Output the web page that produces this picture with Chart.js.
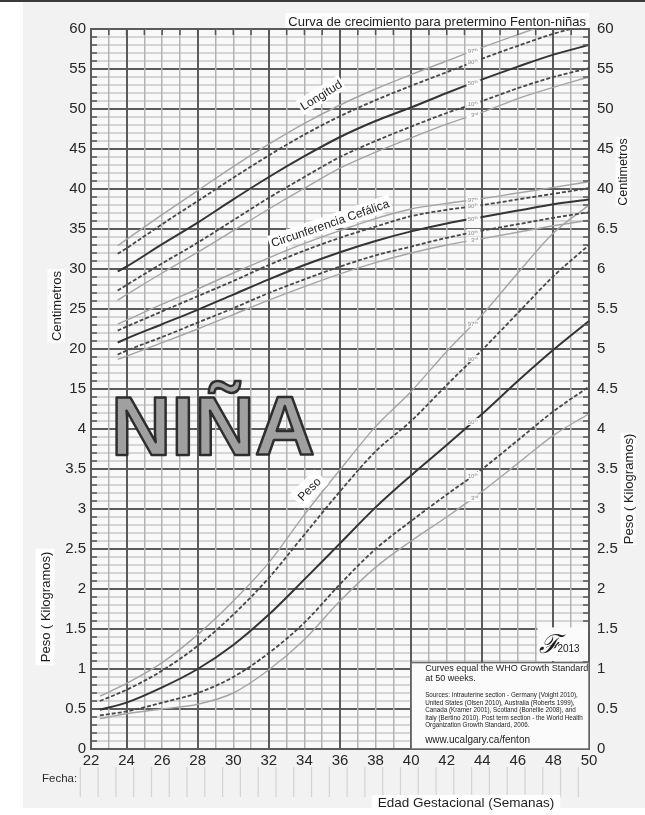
<!DOCTYPE html>
<html lang="es">
<head>
<meta charset="utf-8">
<title>Curva de crecimiento para pretermino Fenton-niñas</title>
<script src="https://cdn.jsdelivr.net/npm/chart.js@4.4.1/dist/chart.umd.min.js"></script>
<style>
  html, body { margin: 0; padding: 0; background: #fff; }
  canvas { display: block; }
</style>
</head>
<body>
<canvas id="fentonChart" width="645" height="815"></canvas>
<script>
// Semanas (edad gestacional) de cada punto de las curvas
const upperWeeks = [23.5, 24, 26, 28, 30, 32, 34, 36, 38, 40, 42, 44, 46, 48, 50];
const weightWeeks = [22.5, 24, 26, 28, 30, 32, 34, 36, 38, 40, 42, 44, 46, 48, 50];

// Longitud (cm)
const length97 = [32.9, 33.7, 36.8, 39.8, 42.8, 45.6, 48.2, 50.5, 52.5, 54.3, 56.0, 57.7, 59.3, 60.8, 62.0];
const length90 = [31.9, 32.6, 35.6, 38.5, 41.4, 44.2, 46.8, 49.1, 51.1, 52.9, 54.6, 56.3, 57.9, 59.4, 60.6];
const length50 = [29.7, 30.3, 33.1, 35.8, 38.7, 41.5, 44.1, 46.5, 48.5, 50.2, 52.0, 53.7, 55.3, 56.8, 58.0];
const length10 = [27.3, 28.0, 30.7, 33.3, 36.1, 38.9, 41.5, 44.0, 46.0, 47.8, 49.5, 51.0, 52.6, 54.0, 55.1];
const length3 = [26.1, 26.8, 29.5, 32.1, 34.8, 37.5, 40.1, 42.6, 44.6, 46.4, 48.1, 49.6, 51.3, 52.7, 54.0];

// Circunferencia cefálica (cm)
const head97 = [23.1, 23.6, 25.6, 27.5, 29.5, 31.4, 33.2, 34.8, 36.3, 37.5, 38.2, 38.8, 39.5, 40.2, 40.9];
const head90 = [22.3, 22.8, 24.7, 26.6, 28.5, 30.5, 32.3, 33.9, 35.3, 36.6, 37.4, 38.0, 38.7, 39.4, 40.1];
const head50 = [20.8, 21.3, 23.1, 24.9, 26.8, 28.7, 30.5, 32.1, 33.5, 34.7, 35.7, 36.5, 37.3, 38.1, 38.7];
const head10 = [19.3, 19.8, 21.5, 23.3, 25.1, 27.0, 28.7, 30.3, 31.7, 32.8, 33.9, 34.8, 35.6, 36.4, 37.1];
const head3 = [18.7, 19.1, 20.8, 22.5, 24.3, 26.1, 27.8, 29.4, 30.8, 32.0, 33.0, 33.8, 34.6, 35.4, 36.1];

// Peso (kg)
const weight97 = [0.66, 0.82, 1.08, 1.43, 1.85, 2.33, 2.93, 3.49, 4.03, 4.47, 4.97, 5.43, 5.95, 6.45, 6.80];
const weight90 = [0.60, 0.74, 0.98, 1.29, 1.68, 2.14, 2.68, 3.22, 3.72, 4.10, 4.55, 4.99, 5.45, 5.91, 6.30];
const weight50 = [0.49, 0.58, 0.77, 1.00, 1.30, 1.68, 2.12, 2.57, 3.02, 3.42, 3.80, 4.19, 4.60, 4.99, 5.35];
const weight10 = [0.42, 0.47, 0.58, 0.70, 0.90, 1.20, 1.58, 2.06, 2.50, 2.85, 3.18, 3.50, 3.86, 4.22, 4.53];
const weight3 = [0.38, 0.44, 0.50, 0.56, 0.70, 0.99, 1.37, 1.85, 2.27, 2.60, 2.90, 3.22, 3.57, 3.92, 4.19];

// Etiquetas de los ejes
const weekTicks = [22, 24, 26, 28, 30, 32, 34, 36, 38, 40, 42, 44, 46, 48, 50];
const cmTicksLeft = [15, 20, 25, 30, 35, 40, 45, 50, 55, 60];
const kgTicksLeft = [0, 0.5, 1, 1.5, 2, 2.5, 3, 3.5, 4];
const cmTicksRight = [40, 45, 50, 55, 60];
const kgTicksRight = [0, 0.5, 1, 1.5, 2, 2.5, 3, 3.5, 4, 4.5, 5, 5.5, 6, 6.5];

const FONT = '"Liberation Sans", Arial, sans-serif';
Chart.defaults.font.family = FONT;

const MAJOR = '#5b5b5b';
const lineStyles = {
    97: { borderColor: '#a4a4a4', borderWidth: 1.4, borderDash: [] },
    90: { borderColor: '#474747', borderWidth: 1.8, borderDash: [4, 2] },
    50: { borderColor: '#343434', borderWidth: 2, borderDash: [] },
    10: { borderColor: '#474747', borderWidth: 1.8, borderDash: [4, 2] },
    3: { borderColor: '#a4a4a4', borderWidth: 1.4, borderDash: [] }
};

function curve(weeks, values, pct, axis) {
    return Object.assign({
        data: weeks.map((w, i) => ({ x: w, y: values[i] })),
        yAxisID: axis,
        pointRadius: 0,
        fill: false,
        cubicInterpolationMode: 'monotone'
    }, lineStyles[pct]);
}

const groups = [
    { weeks: upperWeeks, axis: 'y', sets: { 97: length97, 90: length90, 50: length50, 10: length10, 3: length3 } },
    { weeks: upperWeeks, axis: 'y', sets: { 97: head97, 90: head90, 50: head50, 10: head10, 3: head3 } },
    { weeks: weightWeeks, axis: 'yKg', sets: { 97: weight97, 90: weight90, 50: weight50, 10: weight10, 3: weight3 } }
];

const datasets = [];
groups.forEach(g => {
    [97, 90, 50, 10, 3].forEach(p => datasets.push(curve(g.weeks, g.sets[p], p, g.axis)));
});

function valueAt(weeks, values, w) {
    for (let i = 1; i < weeks.length; i++) {
        if (w <= weeks[i]) {
            const t = (w - weeks[i - 1]) / (weeks[i] - weeks[i - 1]);
            return values[i - 1] + t * (values[i] - values[i - 1]);
        }
    }
    return values[values.length - 1];
}

// texto girado con fondo blanco
function boxedText(ctx, text, x, y, angle, font, pad) {
    ctx.save();
    ctx.translate(x, y);
    ctx.rotate(angle * Math.PI / 180);
    ctx.font = font;
    const w = ctx.measureText(text).width;
    const h = parseFloat(font.match(/(\d+(\.\d+)?)px/)[1]);
    ctx.fillStyle = '#ffffff';
    ctx.fillRect(-w / 2 - pad, -h / 2 - pad, w + pad * 2, h + pad * 2);
    ctx.fillStyle = '#1e1e1e';
    ctx.textAlign = 'center';
    ctx.textBaseline = 'middle';
    ctx.fillText(text, 0, 1);
    ctx.restore();
}

const backgroundPlugin = {
    id: 'paper',
    beforeDraw(chart) {
        const { ctx, chartArea: a } = chart;
        ctx.save();
        ctx.fillStyle = '#ffffff';
        ctx.fillRect(0, 0, chart.width, chart.height);
        ctx.fillStyle = '#f1f2f1';
        ctx.fillRect(23, 2, chart.width - 23, 806);
        ctx.fillStyle = '#3a3a3a';
        ctx.fillRect(0, 0, chart.width, 2);
        ctx.fillStyle = '#f8f9f8';
        ctx.fillRect(a.left, a.top, a.right - a.left, a.bottom - a.top);
        ctx.restore();
    }
};

const decorPlugin = {
    id: 'decor',
    afterDatasetsDraw(chart) {
        const { ctx, chartArea: a } = chart;
        const x = chart.scales.x, y = chart.scales.y, yKg = chart.scales.yKg;

        ctx.save();
        // marcas cortas en los bordes
        ctx.strokeStyle = '#555';
        ctx.lineWidth = 1.5;
        for (let v = -29; v < 60; v++) {
            if (v % 5 === 0) continue;
            const py = y.getPixelForValue(v);
            ctx.beginPath();
            ctx.moveTo(a.left, py); ctx.lineTo(a.left + 6, py);
            ctx.moveTo(a.right - 6, py); ctx.lineTo(a.right, py);
            ctx.stroke();
        }
        for (let w = 23; w < 50; w++) {
            const px = x.getPixelForValue(w);
            ctx.beginPath();
            ctx.moveTo(px, a.top); ctx.lineTo(px, a.top + 6);
            ctx.stroke();
        }

        // NIÑA
        const nx = x.getPixelForValue(28.86), ny = y.getPixelForValue(10.5);
        ctx.font = 'bold 84px ' + FONT;
        const nw = ctx.measureText('NIÑA').width;
        ctx.translate(nx, ny + 30);
        ctx.scale(204 / nw, 1);
        ctx.textAlign = 'center';
        ctx.textBaseline = 'alphabetic';
        ctx.fillStyle = '#a0a0a0';
        ctx.strokeStyle = '#2e2e2e';
        ctx.lineWidth = 2.5;
        ctx.lineJoin = 'round';
        ctx.fillText('NIÑA', 0, 0);
        ctx.strokeText('NIÑA', 0, 0);
        ctx.restore();

        // nombres de las curvas
        boxedText(ctx, 'Longitud', x.getPixelForValue(34.93), y.getPixelForValue(51.75), -31.6, '12px ' + FONT, 2);
        boxedText(ctx, 'Circunferencia Cefálica', x.getPixelForValue(35.44), y.getPixelForValue(35.75), -19, '12px ' + FONT, 2);
        boxedText(ctx, 'Peso', x.getPixelForValue(34.26), yKg.getPixelForValue(3.25), -45, '12px ' + FONT, 4);

        // percentiles sobre cada curva
        const suffix = { 97: 'th', 90: 'th', 50: 'th', 10: 'th', 3: 'rd' };
        const tagWeek = 43.5;
        groups.forEach(g => {
            const scale = chart.scales[g.axis];
            [97, 90, 50, 10, 3].forEach(p => {
                const px = x.getPixelForValue(tagWeek);
                const py = scale.getPixelForValue(valueAt(g.weeks, g.sets[p], tagWeek));
                ctx.save();
                ctx.fillStyle = '#f8f9f8';
                ctx.fillRect(px - 7, py - 3.5, 14, 7);
                ctx.fillStyle = '#8c8c8c';
                ctx.textBaseline = 'middle';
                ctx.textAlign = 'right';
                ctx.font = '6px ' + FONT;
                ctx.fillText(String(p), px + 1, py + 0.5);
                ctx.textAlign = 'left';
                ctx.font = '4px ' + FONT;
                ctx.fillText(suffix[p], px + 1, py - 1);
                ctx.restore();
            });
        });

        // recuadro de fuentes
        const bx = x.getPixelForValue(40), by = yKg.getPixelForValue(1.08);
        const bw = a.right - bx, bh = a.bottom - by;
        ctx.save();
        ctx.fillStyle = '#fbfbfb';
        ctx.fillRect(bx, by, bw, bh);
        ctx.strokeStyle = '#6a6a6a';
        ctx.lineWidth = 1.5;
        ctx.strokeRect(bx, by, bw, bh);
        ctx.fillStyle = '#222';
        ctx.textAlign = 'left';
        ctx.textBaseline = 'middle';
        ctx.font = '9px ' + FONT;
        ctx.fillText('Curves equal the WHO Growth Standard', bx + 14, by + 6);
        ctx.fillText('at 50 weeks.', bx + 14, by + 16);
        ctx.font = '6.3px ' + FONT;
        ['Sources: Intrauterine section - Germany (Voight 2010),',
         'United States (Olsen 2010), Australia (Roberts 1999),',
         'Canada (Kramer 2001), Scotland (Bonellie 2008), and',
         'Italy (Bertino 2010). Post term section - the World Health',
         'Organization Growth Standard, 2006.'].forEach((t, i) => ctx.fillText(t, bx + 14, by + 33 + i * 7.5));
        ctx.font = '10px ' + FONT;
        ctx.fillText('www.ucalgary.ca/fenton', bx + 14, by + 78);

        // logo
        const lx = x.getPixelForValue(47.1), ly = yKg.getPixelForValue(1.52);
        ctx.fillStyle = '#fbfbfb';
        ctx.fillRect(lx, ly, a.right - lx - 1, yKg.getPixelForValue(1.1) - ly);
        ctx.fillStyle = '#1a1a1a';
        ctx.font = 'italic 26px "DejaVu Serif", serif';
        ctx.textBaseline = 'alphabetic';
        ctx.fillText('ℱ', lx + 2, ly + 26);
        ctx.font = '10px ' + FONT;
        ctx.fillText('2013', lx + 20, ly + 25);
        ctx.restore();
    },
    afterDraw(chart) {
        const { ctx, chartArea: a } = chart;
        const x = chart.scales.x;
        ctx.save();

        // título
        ctx.font = '13px ' + FONT;
        const title = 'Curva de crecimiento para pretermino Fenton-niñas';
        const tw = ctx.measureText(title).width;
        ctx.fillStyle = '#ffffff';
        ctx.fillRect(a.right - tw - 6, 13, tw + 6, a.top - 14);
        ctx.fillStyle = '#1e1e1e';
        ctx.textAlign = 'right';
        ctx.textBaseline = 'middle';
        ctx.fillText(title, a.right - 3, 22);

        // títulos de los ejes verticales
        boxedText(ctx, 'Centimetros', 56, 306, -90, '13px ' + FONT, 2);
        boxedText(ctx, 'Peso ( Kilogramos)', 45, 607, -90, '13px ' + FONT, 3);
        boxedText(ctx, 'Centimetros', 623, 172, -90, '12.5px ' + FONT, 1);
        boxedText(ctx, 'Peso ( Kilogramos)', 628, 489, -90, '13px ' + FONT, 1);

        // fila de fechas
        ctx.fillStyle = '#2a2a2a';
        ctx.font = '11.5px ' + FONT;
        ctx.textAlign = 'left';
        ctx.fillText('Fecha:', 42, 779);
        ctx.strokeStyle = '#d4d4d4';
        ctx.lineWidth = 1.2;
        for (let w = 21; w < 50; w++) {
            const px = x.getPixelForValue(w + 0.4);
            ctx.beginPath();
            ctx.moveTo(px, 767);
            ctx.lineTo(px, 797);
            ctx.stroke();
        }

        // título del eje x
        ctx.font = '13.5px ' + FONT;
        const xt = 'Edad Gestacional (Semanas)';
        const xw = ctx.measureText(xt).width;
        ctx.fillStyle = '#ffffff';
        ctx.fillRect(466 - xw / 2 - 6, 795, xw + 12, 20);
        ctx.fillStyle = '#1e1e1e';
        ctx.textAlign = 'center';
        ctx.fillText(xt, 466, 803);
        ctx.restore();
    }
};

const chart = new Chart(document.getElementById('fentonChart').getContext('2d'), {
    type: 'line',
    data: { datasets },
    options: {
        responsive: false,
        animation: false,
        devicePixelRatio: 1,
        layout: { padding: { top: 29, left: 0, right: 0, bottom: 0 } },
        plugins: { legend: { display: false }, tooltip: { enabled: false } },
        scales: {
            x: {
                type: 'linear',
                min: 22,
                max: 50,
                afterFit: s => { s.height = 66; },
                afterBuildTicks: s => { s.ticks = []; for (let w = 22; w <= 50; w++) s.ticks.push({ value: w }); },
                ticks: {
                    autoSkip: false,
                    maxRotation: 0,
                    padding: 3,
                    color: '#262626',
                    font: { size: 15 },
                    callback: v => weekTicks.includes(v) ? String(v) : ''
                },
                grid: {
                    z: -1,
                    drawTicks: false,
                    color: c => c.tick.value % 4 === 0 ? MAJOR : '#b3b3b3',
                    lineWidth: c => c.tick.value % 4 === 0 ? 2 : 1.5
                },
                border: { color: MAJOR, width: 2 }
            },
            y: {
                type: 'linear',
                position: 'left',
                min: -30,
                max: 60,
                afterFit: s => { s.width = 91; },
                afterBuildTicks: s => { s.ticks = []; for (let v = -30; v <= 60; v++) s.ticks.push({ value: v }); },
                ticks: {
                    autoSkip: false,
                    padding: 5,
                    color: '#262626',
                    font: { size: 15 },
                    callback: v => {
                        if (cmTicksLeft.includes(v)) return String(v);
                        const kg = (v + 30) / 10;
                        return kgTicksLeft.includes(kg) ? String(kg) : '';
                    }
                },
                grid: {
                    z: -2,
                    drawTicks: false,
                    color: c => c.tick.value % 5 === 0 ? MAJOR : '#d4d5d4',
                    lineWidth: 2
                },
                border: { color: MAJOR, width: 2 }
            },
            yKg: {
                type: 'linear',
                position: 'right',
                min: 0,
                max: 9,
                afterFit: s => { s.width = 56; },
                afterBuildTicks: s => { s.ticks = []; for (let i = 0; i <= 18; i++) s.ticks.push({ value: i / 2 }); },
                ticks: {
                    autoSkip: false,
                    padding: 8,
                    color: '#262626',
                    font: { size: 15 },
                    callback: v => {
                        if (kgTicksRight.includes(v)) return String(v);
                        const cm = Math.round(v * 10 - 30);
                        return cmTicksRight.includes(cm) ? String(cm) : '';
                    }
                },
                grid: { drawOnChartArea: false, drawTicks: false },
                border: { color: MAJOR, width: 2 }
            }
        }
    },
    plugins: [backgroundPlugin, decorPlugin]
});
</script>
</body>
</html>
